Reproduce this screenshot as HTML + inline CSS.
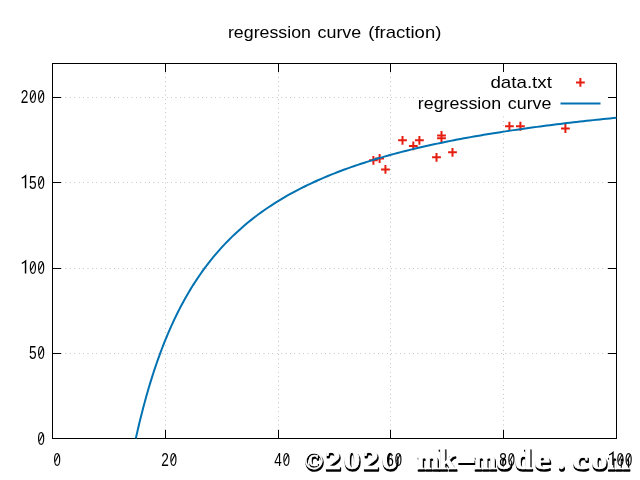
<!DOCTYPE html><html><head><meta charset="utf-8"><style>html,body{margin:0;padding:0;background:#fff;width:640px;height:480px;overflow:hidden}svg{display:block;will-change:transform}text{font-family:"Liberation Sans",sans-serif}text.wm{font-family:"Liberation Serif",serif;font-weight:bold}</style></head><body>
<svg width="640" height="480" viewBox="0 0 640 480">
<rect width="640" height="480" fill="#fff"/>
<text x="227.95" y="37.7" font-size="17" textLength="83.04" lengthAdjust="spacingAndGlyphs">regression</text>
<text x="317.50" y="37.7" font-size="17" textLength="43.71" lengthAdjust="spacingAndGlyphs">curve</text>
<text x="368.31" y="37.7" font-size="17" textLength="73.06" lengthAdjust="spacingAndGlyphs">(fraction)</text>
<path d="M52.5,97.5H616.5 M52.5,182.5H616.5 M52.5,268.5H616.5 M52.5,353.5H616.5 M165.5,438.5V63.5 M278.5,438.5V63.5 M390.5,438.5V63.5 M503.5,438.5V63.5" stroke="#a0a0a0" stroke-width="1.0" stroke-dasharray="0.6 3.8" fill="none"/>
<rect x="423" y="64" width="193" height="52" fill="#fff"/>
<path d="M52,97.5h9M617,97.5h-9 M52,182.5h9M617,182.5h-9 M52,268.5h9M617,268.5h-9 M52,353.5h9M617,353.5h-9 M165.5,439v-9M165.5,63v9 M278.5,439v-9M278.5,63v9 M390.5,439v-9M390.5,63v9 M503.5,439v-9M503.5,63v9" stroke="#000" stroke-width="1" fill="none"/>
<rect x="52.5" y="63.5" width="564" height="375" fill="none" stroke="#000" stroke-width="1"/>
<path d="M369.00,160.30H377.80M373.40,155.90V164.70 M375.20,158.50H384.00M379.60,154.10V162.90 M381.05,169.40H389.85M385.45,165.00V173.80 M398.10,140.30H406.90M402.50,135.90V144.70 M408.90,145.90H417.70M413.30,141.50V150.30 M415.00,140.30H423.80M419.40,135.90V144.70 M437.10,135.40H445.90M441.50,131.00V139.80 M437.10,138.30H445.90M441.50,133.90V142.70 M432.10,157.30H440.90M436.50,152.90V161.70 M448.10,152.30H456.90M452.50,147.90V156.70 M505.00,126.25H513.80M509.40,121.85V130.65 M516.00,126.25H524.80M520.40,121.85V130.65 M561.00,128.50H569.80M565.40,124.10V132.90" stroke="#e51e10" stroke-width="2.0" fill="none"/>
<clipPath id="c"><rect x="52" y="63" width="565" height="376"/></clipPath>
<path d="M135.81,438.50 L136.89,433.65 L137.98,428.93 L139.07,424.32 L140.16,419.83 L141.24,415.44 L142.33,411.17 L143.42,406.99 L144.51,402.92 L145.59,398.94 L146.68,395.05 L147.77,391.25 L148.85,387.54 L149.94,383.91 L151.03,380.36 L152.12,376.88 L153.20,373.49 L154.29,370.16 L155.38,366.90 L156.47,363.72 L157.55,360.60 L158.64,357.54 L159.73,354.54 L160.81,351.61 L161.90,348.73 L162.99,345.91 L164.08,343.15 L165.16,340.43 L166.25,337.77 L167.34,335.16 L168.42,332.60 L169.51,330.09 L170.60,327.62 L171.69,325.20 L172.77,322.82 L173.86,320.49 L174.95,318.19 L176.04,315.94 L177.12,313.73 L178.21,311.55 L179.30,309.41 L180.38,307.31 L181.47,305.24 L182.56,303.21 L183.65,301.21 L184.73,299.25 L185.82,297.31 L186.91,295.41 L188.00,293.54 L189.08,291.70 L190.17,289.88 L191.26,288.10 L192.34,286.34 L193.43,284.61 L194.52,282.91 L195.61,281.23 L196.69,279.58 L197.78,277.95 L198.87,276.35 L199.96,274.77 L201.04,273.21 L202.13,271.68 L203.22,270.17 L204.30,268.68 L205.39,267.21 L206.48,265.76 L207.57,264.33 L208.65,262.93 L209.74,261.54 L210.83,260.17 L211.91,258.82 L213.00,257.49 L214.09,256.17 L215.18,254.87 L216.26,253.59 L217.35,252.33 L218.44,251.09 L219.53,249.86 L220.61,248.64 L221.70,247.44 L225.02,243.88 L228.34,240.45 L231.65,237.15 L234.97,233.97 L238.29,230.90 L241.61,227.94 L244.92,225.08 L248.24,222.32 L251.56,219.65 L254.88,217.07 L258.19,214.57 L261.51,212.15 L264.83,209.80 L268.15,207.53 L271.46,205.33 L274.78,203.19 L278.10,201.12 L281.42,199.10 L284.74,197.15 L288.05,195.24 L291.37,193.40 L294.69,191.60 L298.01,189.85 L301.32,188.15 L304.64,186.49 L307.96,184.87 L311.28,183.30 L314.59,181.76 L317.91,180.27 L321.23,178.81 L324.55,177.39 L327.86,176.00 L331.18,174.64 L334.50,173.32 L337.82,172.03 L341.14,170.76 L344.45,169.53 L347.77,168.32 L351.09,167.14 L354.41,165.99 L357.72,164.86 L361.04,163.76 L364.36,162.68 L367.68,161.62 L370.99,160.58 L374.31,159.57 L377.63,158.57 L380.95,157.60 L384.26,156.64 L387.58,155.71 L390.90,154.79 L394.22,153.89 L397.54,153.01 L400.85,152.14 L404.17,151.29 L407.49,150.46 L410.81,149.64 L414.12,148.84 L417.44,148.05 L420.76,147.28 L424.08,146.52 L427.39,145.77 L430.71,145.04 L434.03,144.32 L437.35,143.61 L440.66,142.91 L443.98,142.23 L447.30,141.55 L450.62,140.89 L453.94,140.24 L457.25,139.60 L460.57,138.97 L463.89,138.35 L467.21,137.74 L470.52,137.14 L473.84,136.55 L477.16,135.97 L480.48,135.40 L483.79,134.83 L487.11,134.28 L490.43,133.73 L493.75,133.19 L497.06,132.66 L500.38,132.14 L503.70,131.63 L507.02,131.12 L510.34,130.62 L513.65,130.13 L516.97,129.64 L520.29,129.16 L523.61,128.69 L526.92,128.22 L530.24,127.77 L533.56,127.31 L536.88,126.87 L540.19,126.43 L543.51,125.99 L546.83,125.56 L550.15,125.14 L553.46,124.72 L556.78,124.31 L560.10,123.91 L563.42,123.50 L566.74,123.11 L570.05,122.72 L573.37,122.33 L576.69,121.95 L580.01,121.57 L583.32,121.20 L586.64,120.84 L589.96,120.47 L593.28,120.12 L596.59,119.76 L599.91,119.41 L603.23,119.07 L606.55,118.73 L609.86,118.39 L613.18,118.06 L616.50,117.73" stroke="#0072b2" stroke-width="2.0" fill="none" stroke-linejoin="round" clip-path="url(#c)"/>
<text x="490.40" y="87.5" font-size="17" textLength="61.54" lengthAdjust="spacingAndGlyphs">data.txt</text>
<text x="417.85" y="108.5" font-size="17" textLength="83.24" lengthAdjust="spacingAndGlyphs">regression</text>
<text x="507.80" y="108.5" font-size="17" textLength="43.71" lengthAdjust="spacingAndGlyphs">curve</text>
<path d="M576.00,82.40H584.80M580.40,78.00V86.80" stroke="#e51e10" stroke-width="2.0" fill="none"/>
<path d="M560.5,103.5H600.5" stroke="#0072b2" stroke-width="2.0" fill="none"/>
<text class="wm" transform="translate(314.50,470.90) scale(0.9,0.92)" text-anchor="middle" font-size="28" fill="#000" stroke="#000" stroke-width="1.6" stroke-linejoin="round">©</text><text class="wm" transform="translate(333.54,470.90) scale(1.15,1)" text-anchor="middle" font-size="28" fill="#000" stroke="#000" stroke-width="1.6" stroke-linejoin="round">2</text><text class="wm" transform="translate(352.58,470.90) scale(1.2,1)" text-anchor="middle" font-size="28" fill="#000" stroke="#000" stroke-width="1.6" stroke-linejoin="round">0</text><text class="wm" transform="translate(371.62,470.90) scale(1.15,1)" text-anchor="middle" font-size="28" fill="#000" stroke="#000" stroke-width="1.6" stroke-linejoin="round">2</text><text class="wm" transform="translate(390.66,470.90) scale(1.2,1)" text-anchor="middle" font-size="28" fill="#000" stroke="#000" stroke-width="1.6" stroke-linejoin="round">0</text><text class="wm" transform="translate(428.74,470.90) scale(0.95,1)" text-anchor="middle" font-size="28" fill="#000" stroke="#000" stroke-width="1.6" stroke-linejoin="round">m</text><text class="wm" transform="translate(447.78,470.90) scale(1.15,1.06)" text-anchor="middle" font-size="28" fill="#000" stroke="#000" stroke-width="1.6" stroke-linejoin="round">k</text><rect x="458.32" y="460.50" width="17" height="4.5" fill="#000"/><text class="wm" transform="translate(485.86,470.90) scale(0.95,1)" text-anchor="middle" font-size="28" fill="#000" stroke="#000" stroke-width="1.6" stroke-linejoin="round">m</text><text class="wm" transform="translate(504.90,470.90) scale(1.15,1)" text-anchor="middle" font-size="28" fill="#000" stroke="#000" stroke-width="1.6" stroke-linejoin="round">o</text><text class="wm" transform="translate(523.94,470.90) scale(1.12,1.04)" text-anchor="middle" font-size="28" fill="#000" stroke="#000" stroke-width="1.6" stroke-linejoin="round">d</text><text class="wm" transform="translate(542.98,470.90) scale(1.3,1)" text-anchor="middle" font-size="28" fill="#000" stroke="#000" stroke-width="1.6" stroke-linejoin="round">e</text><text class="wm" transform="translate(562.02,470.90) scale(1.0,1)" text-anchor="middle" font-size="28" fill="#000" stroke="#000" stroke-width="1.6" stroke-linejoin="round">.</text><text class="wm" transform="translate(581.06,470.90) scale(1.3,1)" text-anchor="middle" font-size="28" fill="#000" stroke="#000" stroke-width="1.6" stroke-linejoin="round">c</text><text class="wm" transform="translate(600.10,470.90) scale(1.15,1)" text-anchor="middle" font-size="28" fill="#000" stroke="#000" stroke-width="1.6" stroke-linejoin="round">o</text><text class="wm" transform="translate(619.14,470.90) scale(0.95,1)" text-anchor="middle" font-size="28" fill="#000" stroke="#000" stroke-width="1.6" stroke-linejoin="round">m</text>
<text class="wm" transform="translate(313.70,468.90) scale(0.9,0.92)" text-anchor="middle" font-size="28" fill="#fff" stroke="#fff" stroke-width="0.6" stroke-linejoin="round">©</text><text class="wm" transform="translate(332.74,468.90) scale(1.15,1)" text-anchor="middle" font-size="28" fill="#fff" stroke="#fff" stroke-width="0.6" stroke-linejoin="round">2</text><text class="wm" transform="translate(351.78,468.90) scale(1.2,1)" text-anchor="middle" font-size="28" fill="#fff" stroke="#fff" stroke-width="0.6" stroke-linejoin="round">0</text><text class="wm" transform="translate(370.82,468.90) scale(1.15,1)" text-anchor="middle" font-size="28" fill="#fff" stroke="#fff" stroke-width="0.6" stroke-linejoin="round">2</text><text class="wm" transform="translate(389.86,468.90) scale(1.2,1)" text-anchor="middle" font-size="28" fill="#fff" stroke="#fff" stroke-width="0.6" stroke-linejoin="round">0</text><text class="wm" transform="translate(427.94,468.90) scale(0.95,1)" text-anchor="middle" font-size="28" fill="#fff" stroke="#fff" stroke-width="0.6" stroke-linejoin="round">m</text><text class="wm" transform="translate(446.98,468.90) scale(1.15,1.06)" text-anchor="middle" font-size="28" fill="#fff" stroke="#fff" stroke-width="0.6" stroke-linejoin="round">k</text><rect x="457.52" y="458.50" width="17" height="4.5" fill="#fff"/><text class="wm" transform="translate(485.06,468.90) scale(0.95,1)" text-anchor="middle" font-size="28" fill="#fff" stroke="#fff" stroke-width="0.6" stroke-linejoin="round">m</text><text class="wm" transform="translate(504.10,468.90) scale(1.15,1)" text-anchor="middle" font-size="28" fill="#fff" stroke="#fff" stroke-width="0.6" stroke-linejoin="round">o</text><text class="wm" transform="translate(523.14,468.90) scale(1.12,1.04)" text-anchor="middle" font-size="28" fill="#fff" stroke="#fff" stroke-width="0.6" stroke-linejoin="round">d</text><text class="wm" transform="translate(542.18,468.90) scale(1.3,1)" text-anchor="middle" font-size="28" fill="#fff" stroke="#fff" stroke-width="0.6" stroke-linejoin="round">e</text><text class="wm" transform="translate(561.22,468.90) scale(1.0,1)" text-anchor="middle" font-size="28" fill="#fff" stroke="#fff" stroke-width="0.6" stroke-linejoin="round">.</text><text class="wm" transform="translate(580.26,468.90) scale(1.3,1)" text-anchor="middle" font-size="28" fill="#fff" stroke="#fff" stroke-width="0.6" stroke-linejoin="round">c</text><text class="wm" transform="translate(599.30,468.90) scale(1.15,1)" text-anchor="middle" font-size="28" fill="#fff" stroke="#fff" stroke-width="0.6" stroke-linejoin="round">o</text><text class="wm" transform="translate(618.34,468.90) scale(0.95,1)" text-anchor="middle" font-size="28" fill="#fff" stroke="#fff" stroke-width="0.6" stroke-linejoin="round">m</text>
<text transform="translate(41.15,445.30) scale(0.69,1)" font-size="19" text-anchor="middle">0</text><path d="M39.35,441.30L42.95,434.30" stroke="#000" stroke-width="1.1"/>
<text transform="translate(32.90,359.17) scale(0.72,1)" font-size="19" text-anchor="middle">5</text><text transform="translate(41.15,359.17) scale(0.69,1)" font-size="19" text-anchor="middle">0</text><path d="M39.35,355.17L42.95,348.17" stroke="#000" stroke-width="1.1"/>
<path d="M21.75,263.35Q23.45,262.65 25.55,260.95V273.45" stroke="#000" stroke-width="1.45" fill="none"/><text transform="translate(32.90,273.95) scale(0.69,1)" font-size="19" text-anchor="middle">0</text><path d="M31.10,269.95L34.70,262.95" stroke="#000" stroke-width="1.1"/><text transform="translate(41.15,273.95) scale(0.69,1)" font-size="19" text-anchor="middle">0</text><path d="M39.35,269.95L42.95,262.95" stroke="#000" stroke-width="1.1"/>
<path d="M21.75,178.12Q23.45,177.42 25.55,175.72V188.22" stroke="#000" stroke-width="1.45" fill="none"/><text transform="translate(32.90,188.72) scale(0.72,1)" font-size="19" text-anchor="middle">5</text><text transform="translate(41.15,188.72) scale(0.69,1)" font-size="19" text-anchor="middle">0</text><path d="M39.35,184.72L42.95,177.72" stroke="#000" stroke-width="1.1"/>
<text transform="translate(24.65,103.49) scale(0.72,1)" font-size="19" text-anchor="middle">2</text><text transform="translate(32.90,103.49) scale(0.69,1)" font-size="19" text-anchor="middle">0</text><path d="M31.10,99.49L34.70,92.49" stroke="#000" stroke-width="1.1"/><text transform="translate(41.15,103.49) scale(0.69,1)" font-size="19" text-anchor="middle">0</text><path d="M39.35,99.49L42.95,92.49" stroke="#000" stroke-width="1.1"/>
<text transform="translate(57.05,465.50) scale(0.69,1)" font-size="19" text-anchor="middle">0</text><path d="M55.25,461.50L58.85,454.50" stroke="#000" stroke-width="1.1"/>
<text transform="translate(165.05,465.50) scale(0.72,1)" font-size="19" text-anchor="middle">2</text><text transform="translate(173.30,465.50) scale(0.69,1)" font-size="19" text-anchor="middle">0</text><path d="M171.50,461.50L175.10,454.50" stroke="#000" stroke-width="1.1"/>
<text transform="translate(278.05,465.50) scale(0.72,1)" font-size="19" text-anchor="middle">4</text><text transform="translate(286.30,465.50) scale(0.69,1)" font-size="19" text-anchor="middle">0</text><path d="M284.50,461.50L288.10,454.50" stroke="#000" stroke-width="1.1"/>
<text transform="translate(390.05,465.50) scale(0.72,1)" font-size="19" text-anchor="middle">6</text><text transform="translate(398.30,465.50) scale(0.69,1)" font-size="19" text-anchor="middle">0</text><path d="M396.50,461.50L400.10,454.50" stroke="#000" stroke-width="1.1"/>
<text transform="translate(503.05,465.50) scale(0.72,1)" font-size="19" text-anchor="middle">8</text><text transform="translate(511.30,465.50) scale(0.69,1)" font-size="19" text-anchor="middle">0</text><path d="M509.50,461.50L513.10,454.50" stroke="#000" stroke-width="1.1"/>
<path d="M609.15,454.90Q610.85,454.20 612.95,452.50V465.00" stroke="#000" stroke-width="1.45" fill="none"/><text transform="translate(620.30,465.50) scale(0.69,1)" font-size="19" text-anchor="middle">0</text><path d="M618.50,461.50L622.10,454.50" stroke="#000" stroke-width="1.1"/><text transform="translate(628.55,465.50) scale(0.69,1)" font-size="19" text-anchor="middle">0</text><path d="M626.75,461.50L630.35,454.50" stroke="#000" stroke-width="1.1"/>
</svg></body></html>
